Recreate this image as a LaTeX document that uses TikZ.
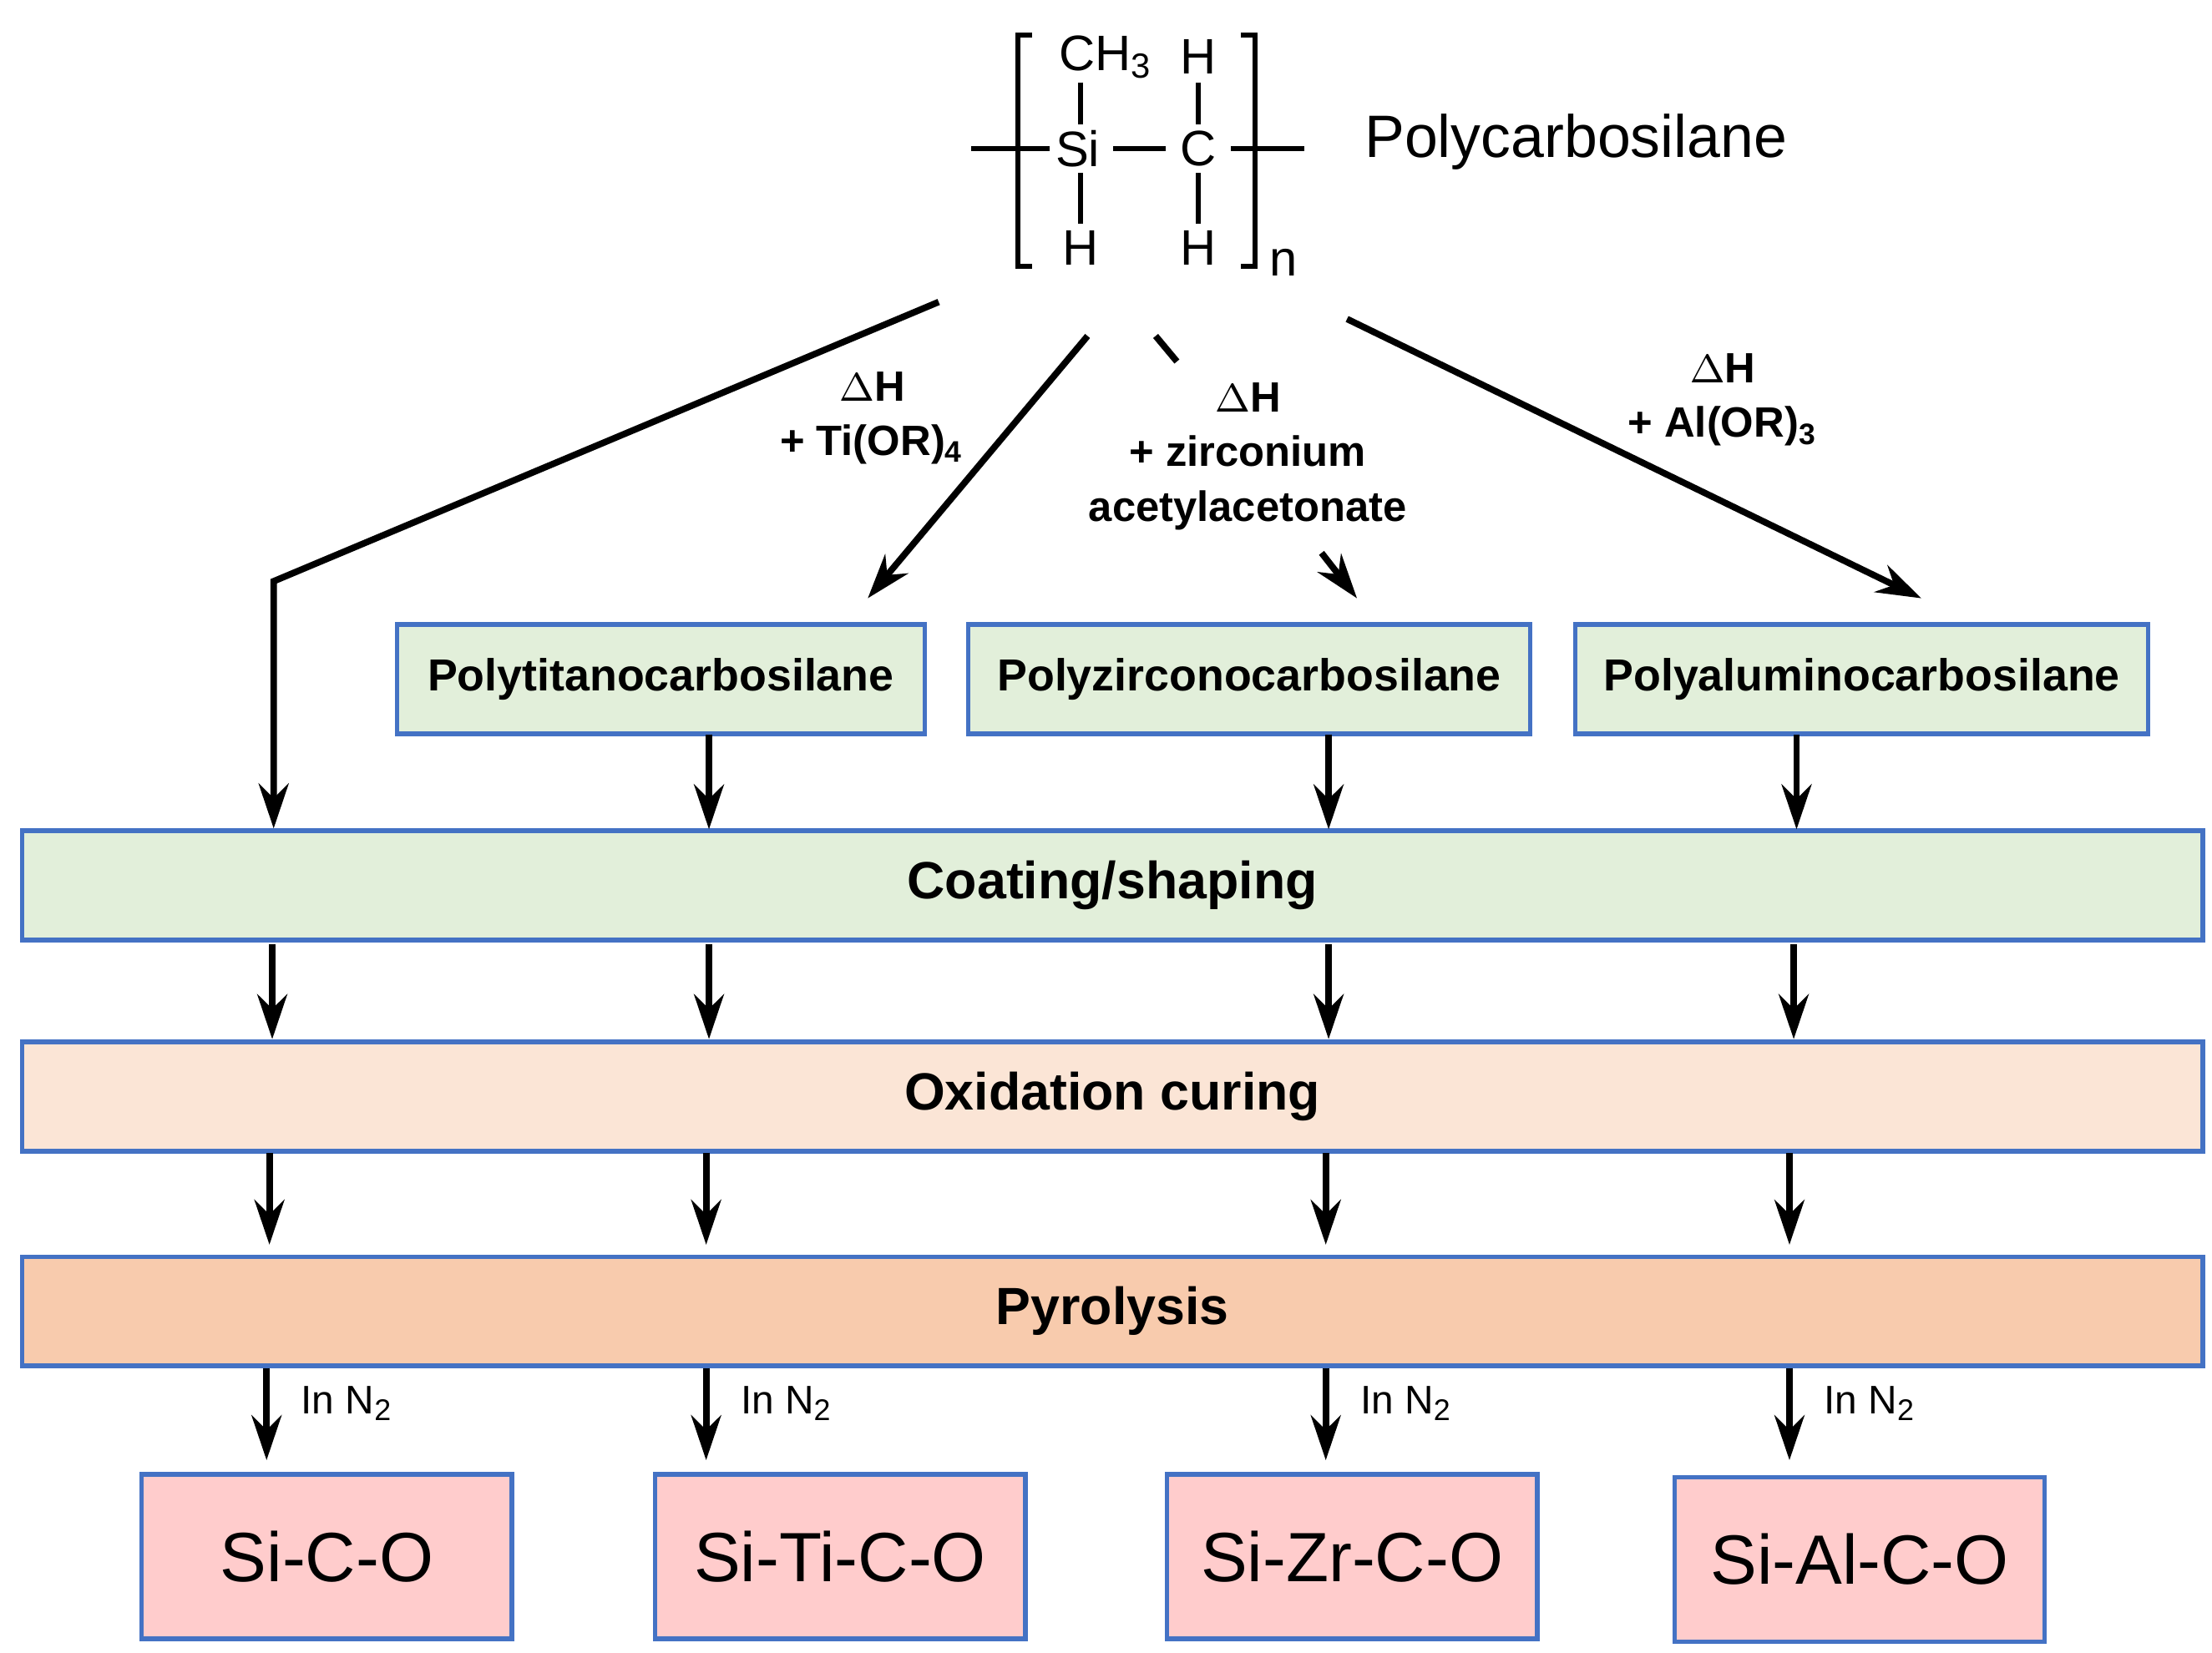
\documentclass[tikz,border=0pt]{standalone}
\usepackage{fontspec}
\setmainfont{Liberation Sans}
\usetikzlibrary{arrows.meta}
\definecolor{bord}{RGB}{68,114,196}
\definecolor{gfill}{RGB}{226,239,218}
\definecolor{ofill}{RGB}{251,229,214}
\definecolor{pfill}{RGB}{248,203,173}
\definecolor{rfill}{RGB}{255,204,204}
\begin{document}
\begin{tikzpicture}[x=0.01cm,y=-0.01cm,
  arr/.style={-{Stealth[length=9pt,width=6pt]},line width=1.3pt},
  ln/.style={line width=1.3pt},
  bx/.style={draw=bord,line width=0.9pt,minimum height=0.77cm,inner sep=0pt},
  sb/.style={font=\bfseries\fontsize{9}{11}\selectfont},
  bb/.style={font=\bfseries\fontsize{10.5}{13}\selectfont},
  ch/.style={font=\fontsize{10}{12}\selectfont},
  lab/.style={font=\bfseries\fontsize{8.5}{11}\selectfont,align=center},
  n2/.style={font=\fontsize{8}{10}\selectfont,anchor=west},
  fin/.style={draw=bord,line width=0.9pt,fill=rfill,minimum width=2.61cm,minimum height=1.16cm,font=\fontsize{14}{17}\selectfont}]
\useasboundingbox (0,0) rectangle (1560,1166);
% polymer
\node[ch] (si) at (760,105) {Si};
\node[ch] (c) at (845,105) {C};
\node[ch] (ch3) at (780,40) {CH\textsubscript{3}};
\node[ch] (ht) at (845,40) {H};
\node[ch] (hb1) at (762,175) {H};
\node[ch] (hb2) at (845,175) {H};
\draw[line width=1pt] (762,58)--(762,88) (762,122)--(762,158) (845,58)--(845,88) (845,122)--(845,158)
 (685,105)--(740,105) (785,105)--(822,105) (868,105)--(920,105);
\draw[line width=1pt] (728,25)--(718,25)--(718,188)--(728,188) (875,25)--(885,25)--(885,188)--(875,188);
\node[ch] (nn) at (905,185) {n};
\node[font=\fontsize{12}{14}\selectfont,anchor=west] (pcs) at (950,100) {Polycarbosilane};
% boxes
\node[bx,fill=gfill,minimum width=3.72cm,sb] (pt) at (466,479) {Polytitanocarbosilane};
\node[bx,fill=gfill,minimum width=3.96cm,sb] (pz) at (881,479) {Polyzirconocarbosilane};
\node[bx,fill=gfill,minimum width=4.04cm,sb] (pa) at (1313,479) {Polyaluminocarbosilane};
\node[bx,fill=gfill,minimum width=15.37cm,bb] (cs) at (784.5,624.5) {Coating/shaping};
\node[bx,fill=ofill,minimum width=15.37cm,bb] (ox) at (784.5,773.5) {Oxidation curing};
\node[bx,fill=pfill,minimum width=15.37cm,bb] (py) at (784.5,925) {Pyrolysis};
\node[fin] (f1) at (230.5,1098) {Si-C-O};
\node[fin] (f2) at (592.5,1098) {Si-Ti-C-O};
\node[fin] (f3) at (953.5,1098) {Si-Zr-C-O};
\node[fin] (f4) at (1311.5,1100) {Si-Al-C-O};
% top arrows
\coordinate (a1) at (662,213); \coordinate (a1b) at (193,410);
\draw[arr] (a1)--(a1b)--(a1b|-cs.north);
\coordinate (a2) at (767,237); \coordinate (a2e) at (612,422);
\draw[arr] (a2)--(a2e);
\coordinate (a3) at (815,237); \coordinate (a3m) at (830,255);
\coordinate (a3s) at (932,390); \coordinate (a3e) at (957,422);
\draw[ln] (a3)--(a3m); \draw[arr] (a3s)--(a3e);
\coordinate (a4) at (950,225); \coordinate (a4e) at (1355,422);
\draw[arr] (a4)--(a4e);
\node[lab] (l1) at (615,295) {$\Delta$H\\+ Ti(OR)\textsubscript{4}};
\node[lab] (l2) at (880,322) {$\Delta$H\\+ zirconium\\acetylacetonate};
\node[lab] (l3) at (1215,282) {$\Delta$H\\+ Al(OR)\textsubscript{3}};
% down arrows
\draw[arr] (500,518)--(500,585); \draw[arr] (937,518)--(937,585); \draw[arr] (1267,518)--(1267,585);
\foreach \x in {192,500,937,1265} \draw[arr] (\x,666)--(\x,733);
\foreach \x in {190,498,935,1262} \draw[arr] (\x,813)--(\x,878);
\foreach \x in {188,498,935,1262} {\draw[arr] (\x,965)--(\x,1030); \node[n2] at (\x+12,990) {In N\textsubscript{2}};}
\end{tikzpicture}
\end{document}
